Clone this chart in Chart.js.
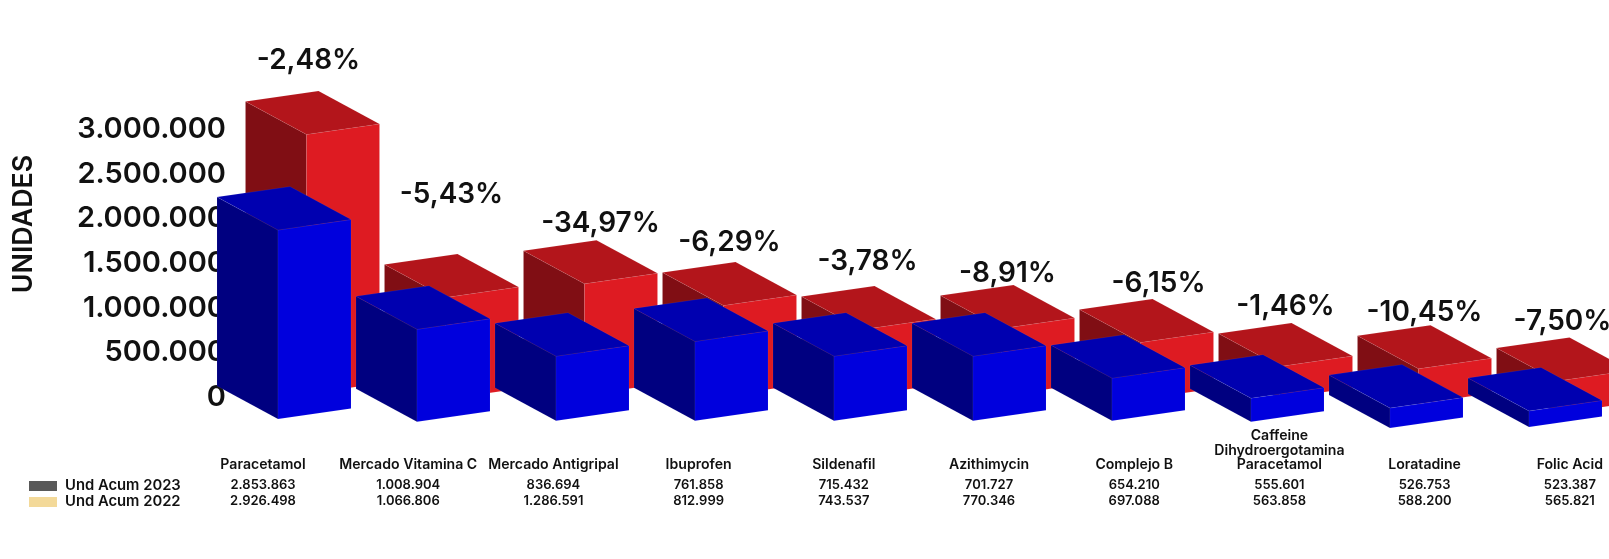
<!DOCTYPE html>
<html>
<head>
<meta charset="utf-8">
<title>Unidades</title>
<script src="https://cdn.jsdelivr.net/npm/chart.js@4/dist/chart.umd.min.js"></script>
<style>
html, body { margin: 0; padding: 0; background: #fff; overflow: hidden; }
#wrap { position: relative; width: 1609px; height: 559px; overflow: hidden; }
#wrap canvas { position: absolute; left: 0; top: 0; }
</style>
</head>
<body>
<div id="wrap"><canvas id="chart" width="1700" height="559" style="width:1700px;height:559px"></canvas></div>
<script>
const productNames = ["Paracetamol", "Mercado Vitamina C", "Mercado Antigripal", "Ibuprofen", "Sildenafil", "Azithimycin", "Complejo B", ["Caffeine", "Dihydroergotamina", "Paracetamol"], "Loratadine", "Folic Acid"];
const und2023 = [2853863, 1008904, 836694, 761858, 715432, 701727, 654210, 555601, 526753, 523387];
const und2022 = [2926498, 1066806, 1286591, 812999, 743537, 770346, 697088, 563858, 588200, 565821];
const changes = ["-2,48%", "-5,43%", "-34,97%", "-6,29%", "-3,78%", "-8,91%", "-6,15%", "-1,46%", "-10,45%", "-7,50%"];
const yearNames = ["Und Acum 2023", "Und Acum 2022"];
const tickValues = [0, 500000, 1000000, 1500000, 2000000, 2500000, 3000000];

// bar tops and feet as they are actually drawn in the picture (not the table figures)
const blueTop = [2118000, 1005000, 704000, 869000, 704000, 704000, 458000, 234000, 122000, 90000];
const blueFoot = [0, -30000, -20000, -20000, -20000, -20000, -20000, -30000, -100000, -90000];
const redTop = [2910000, 1082000, 1235000, 992000, 723000, 733000, 577000, 308000, 282000, 146000];
const redFoot = [0, -60000, -10000, -20000, -20000, -20000, -60000, -50000, -110000, -220000];

// fake 3d projection, in pixels
const WIDTH_RISE = 10.5;
const DEPTH_X = -61, DEPTH_Y = -33;
const RED_SHIFT_Y = -1;
const BLUE_SHIFT_X = -28.5, BLUE_SHIFT_Y = 24;
const FONT = "Inter, 'Open Sans', sans-serif";

const redFaces = { front: "#de1b22", side: "#800e14", top: "#b3151b" };
const blueFaces = { front: "#0000dd", side: "#000080", top: "#0000b0" };
const legendColors = ["#595959", "#f3d999"];

// label nudges relative to the top of the red box
const labelNudge = [[-4, -31], [0, -60], [10, -18], [0, -20], [-1, -25], [0, -13], [12, -16], [0, -17], [0, -14], [-1, -17]];

function poly(ctx, color, pts) {
    ctx.fillStyle = color;
    ctx.beginPath();
    ctx.moveTo(pts[0][0], pts[0][1]);
    for (let i = 1; i < pts.length; i++) ctx.lineTo(pts[i][0], pts[i][1]);
    ctx.closePath();
    ctx.fill();
    ctx.strokeStyle = "rgba(255,255,255,0.12)";
    ctx.lineWidth = 0.5;
    ctx.stroke();
}

function drawBox(ctx, bar, faces, sx, sy) {
    const l = bar.x - bar.width / 2 + sx, r = bar.x + bar.width / 2 + sx;
    // floating bars can come back flipped when the foot is the bigger number
    const t = Math.min(bar.y, bar.base) + sy, b = Math.max(bar.y, bar.base) + sy;
    poly(ctx, faces.side, [[l, t], [l + DEPTH_X, t + DEPTH_Y], [l + DEPTH_X, b + DEPTH_Y], [l, b]]);
    poly(ctx, faces.front, [[l, t], [r, t - WIDTH_RISE], [r, b - WIDTH_RISE], [l, b]]);
    poly(ctx, faces.top, [[l, t], [l + DEPTH_X, t + DEPTH_Y], [r + DEPTH_X, t + DEPTH_Y - WIDTH_RISE], [r, t - WIDTH_RISE]]);
}

const boxes3d = {
    id: "boxes3d",
    afterDatasetsDraw(chart) {
        const ctx = chart.ctx;
        ctx.save();
        chart.getDatasetMeta(0).data.forEach(bar => drawBox(ctx, bar, redFaces, 0, RED_SHIFT_Y));
        chart.getDatasetMeta(1).data.forEach(bar => drawBox(ctx, bar, blueFaces, BLUE_SHIFT_X, BLUE_SHIFT_Y));

        // percent labels float above the red boxes
        ctx.fillStyle = "#111";
        ctx.textAlign = "center";
        ctx.textBaseline = "middle";
        ctx.font = "600 28px " + FONT;
        chart.getDatasetMeta(0).data.forEach((bar, i) => {
            const topY = Math.min(bar.y, bar.base) + DEPTH_Y - WIDTH_RISE;
            ctx.fillText(changes[i], bar.x + DEPTH_X / 2 + labelNudge[i][0], topY + labelNudge[i][1]);
        });

        // table under the chart
        for (let i = 0; i < productNames.length; i++) {
            const cx = 263 + 145.2 * i;
            const lines = [].concat(productNames[i]);
            ctx.font = "600 14.1px " + FONT;
            lines.forEach((txt, k) => ctx.fillText(txt, cx, 465 - (lines.length - 1 - k) * 14.5));
            ctx.font = "600 13px " + FONT;
            ctx.fillText(und2023[i].toLocaleString("de-DE"), cx, 485);
            ctx.fillText(und2022[i].toLocaleString("de-DE"), cx, 501);
        }

        // legend
        ctx.textAlign = "left";
        ctx.font = "600 14.8px " + FONT;
        yearNames.forEach((name, i) => {
            ctx.fillStyle = legendColors[i];
            ctx.fillRect(29, 481 + i * 16, 28, 10);
            ctx.fillStyle = "#111";
            ctx.fillText(name, 65, 486 + i * 16);
        });
        ctx.restore();
    }
};

new Chart("chart", {
    type: "bar",
    data: {
        labels: productNames,
        datasets: [
            { label: yearNames[1], data: redTop.map((v, i) => [redFoot[i], v]), backgroundColor: "transparent" },
            { label: yearNames[0], data: blueTop.map((v, i) => [blueFoot[i], v]), backgroundColor: "transparent" }
        ]
    },
    options: {
        responsive: false,
        animation: false,
        grouped: false,
        barPercentage: 73 / 139,
        categoryPercentage: 1,
        layout: { padding: { left: 8, right: 36.5, top: 53, bottom: 164 } },
        plugins: { legend: { display: false }, tooltip: { enabled: false } },
        scales: {
            x: { display: false },
            y: {
                min: 0,
                max: 3834000,
                afterBuildTicks: s => { s.ticks = tickValues.map(value => ({ value })); },
                afterFit: s => { s.width = 265.5; s.paddingTop = 0; s.paddingBottom = 0; },
                grid: { display: false },
                border: { display: false },
                ticks: {
                    padding: 39.5,
                    labelOffset: 2,
                    color: "#111",
                    font: { family: FONT, size: 29, weight: "600" },
                    callback: v => v.toLocaleString("de-DE")
                },
                title: {
                    display: true,
                    text: "UNIDADES",
                    color: "#111",
                    padding: 0,
                    font: { family: FONT, size: 26.8, weight: "600" }
                }
            }
        }
    },
    plugins: [boxes3d]
});
</script>
</body>
</html>
